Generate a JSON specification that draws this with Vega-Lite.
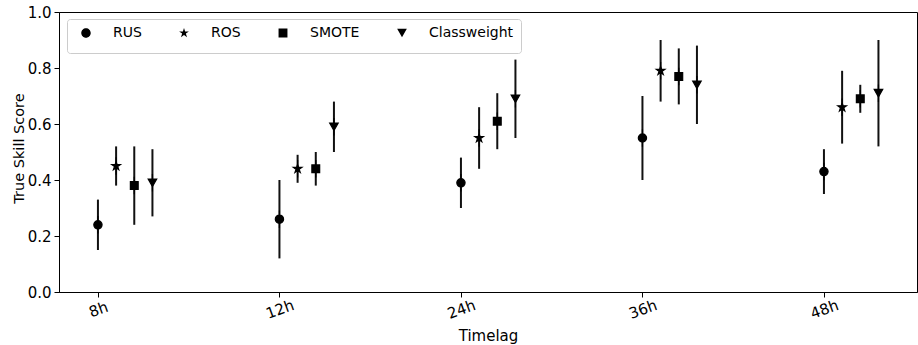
{
  "$schema": "https://vega.github.io/schema/vega-lite/v6.json",
  "width": 858,
  "height": 280,
  "autosize": {"type": "none"},
  "padding": {"left": 59, "top": 12, "right": 1, "bottom": 53},
  "background": "white",
  "data": {
    "values": [
      {"timelag": "8h", "method": "RUS", "value": 0.24, "lo": 0.15, "hi": 0.33},
      {"timelag": "8h", "method": "ROS", "value": 0.45, "lo": 0.38, "hi": 0.52},
      {"timelag": "8h", "method": "SMOTE", "value": 0.38, "lo": 0.24, "hi": 0.52},
      {"timelag": "8h", "method": "Classweight", "value": 0.39, "lo": 0.27, "hi": 0.51},
      {"timelag": "12h", "method": "RUS", "value": 0.26, "lo": 0.12, "hi": 0.40},
      {"timelag": "12h", "method": "ROS", "value": 0.44, "lo": 0.39, "hi": 0.49},
      {"timelag": "12h", "method": "SMOTE", "value": 0.44, "lo": 0.38, "hi": 0.50},
      {"timelag": "12h", "method": "Classweight", "value": 0.59, "lo": 0.50, "hi": 0.68},
      {"timelag": "24h", "method": "RUS", "value": 0.39, "lo": 0.30, "hi": 0.48},
      {"timelag": "24h", "method": "ROS", "value": 0.55, "lo": 0.44, "hi": 0.66},
      {"timelag": "24h", "method": "SMOTE", "value": 0.61, "lo": 0.51, "hi": 0.71},
      {"timelag": "24h", "method": "Classweight", "value": 0.69, "lo": 0.55, "hi": 0.83},
      {"timelag": "36h", "method": "RUS", "value": 0.55, "lo": 0.40, "hi": 0.70},
      {"timelag": "36h", "method": "ROS", "value": 0.79, "lo": 0.68, "hi": 0.90},
      {"timelag": "36h", "method": "SMOTE", "value": 0.77, "lo": 0.67, "hi": 0.87},
      {"timelag": "36h", "method": "Classweight", "value": 0.74, "lo": 0.60, "hi": 0.88},
      {"timelag": "48h", "method": "RUS", "value": 0.43, "lo": 0.35, "hi": 0.51},
      {"timelag": "48h", "method": "ROS", "value": 0.66, "lo": 0.53, "hi": 0.79},
      {"timelag": "48h", "method": "SMOTE", "value": 0.69, "lo": 0.64, "hi": 0.74},
      {"timelag": "48h", "method": "Classweight", "value": 0.71, "lo": 0.52, "hi": 0.90}
    ]
  },
  "encoding": {
    "x": {
      "field": "timelag",
      "type": "ordinal",
      "sort": ["8h", "12h", "24h", "36h", "48h"],
      "scale": {"type": "point", "padding": 0.3636, "align": 0.295},
      "axis": {
        "title": "Timelag",
        "labelAngle": -20,
        "labelAlign": "center",
        "labelBaseline": "middle",
        "labelPadding": 12,
        "labelFontSize": 15,
        "titleFontSize": 15,
        "titleX": 429,
        "titleY": 48,
        "titleAlign": "center",
        "titleBaseline": "alphabetic"
      }
    },
    "xOffset": {
      "field": "method",
      "type": "nominal",
      "sort": ["RUS", "ROS", "SMOTE", "Classweight"],
      "scale": {"type": "point", "domain": ["RUS", "ROS", "SMOTE", "Classweight"], "range": [0, 54.5], "padding": 0}
    }
  },
  "layer": [
    {
      "mark": {"type": "rule", "color": "#111111", "strokeWidth": 2},
      "encoding": {
        "y": {"field": "lo", "type": "quantitative"},
        "y2": {"field": "hi"}
      }
    },
    {
      "mark": {"type": "point", "filled": true, "fill": "black", "stroke": "black", "opacity": 1, "fillOpacity": 1, "strokeOpacity": 1, "size": 100, "strokeWidth": 1.2},
      "encoding": {
        "y": {
          "field": "value",
          "type": "quantitative",
          "scale": {"domain": [0, 1], "nice": false, "zero": false},
          "axis": {
            "title": "True Skill Score",
            "values": [0, 0.2, 0.4, 0.6, 0.8, 1.0],
            "format": ".1f",
            "labelFontSize": 15,
            "labelPadding": 3,
            "titleFontSize": 14.5,
            "titleAngle": -90,
            "titleX": -36,
            "titleY": 136,
            "titleAlign": "center",
            "titleBaseline": "alphabetic"
          }
        },
        "shape": {
          "field": "method",
          "type": "nominal",
          "sort": ["RUS", "ROS", "SMOTE", "Classweight"],
          "scale": {
            "domain": ["RUS", "ROS", "SMOTE", "Classweight"],
            "range": [
              "M0.83,0A0.83,0.83,0,1,1,-0.83,0A0.83,0.83,0,1,1,0.83,0ZM0,-1.75L0,1.75",
              "M0,-0.9L0.201,-0.2767L0.856,-0.2781L0.3253,0.1057L0.529,0.7281L0,0.342L-0.529,0.7281L-0.3253,0.1057L-0.856,-0.2781L-0.201,-0.2767ZM0,-1.75L0,1.75",
              "M-0.78,-0.78L0.78,-0.78L0.78,0.78L-0.78,0.78ZM0,-1.75L0,1.75",
              "M-0.85,-0.75L0.85,-0.75L0,0.75ZM0,-1.75L0,1.75"
            ]
          },
          "legend": {
            "title": null,
            "orient": "none",
            "legendX": 8,
            "legendY": 7,
            "direction": "horizontal",
            "columns": 4,
            "padding": 7,
            "symbolOffset": 5,
            "labelOffset": 20,
            "columnPadding": 30,
            "labelFontSize": 14,
            "labelColor": "black",
            "strokeColor": "#cccccc",
            "fillColor": "rgba(255,255,255,0.8)",
            "cornerRadius": 3
          }
        }
      }
    }
  ],
  "config": {
    "font": "DejaVu Sans",
    "view": {"stroke": "black", "strokeWidth": 1},
    "axis": {
      "grid": false,
      "domainColor": "black",
      "domainWidth": 1,
      "tickColor": "black",
      "tickWidth": 1,
      "tickSize": 5,
      "labelColor": "black",
      "titleColor": "black",
      "titleFontWeight": "normal",
      "labelFont": "DejaVu Sans",
      "titleFont": "DejaVu Sans"
    },
    "legend": {
      "labelFont": "DejaVu Sans",
      "symbolSize": 130,
      "symbolStrokeWidth": 1.5,
      "symbolStrokeColor": "black",
      "symbolFillColor": "black"
    }
  }
}
